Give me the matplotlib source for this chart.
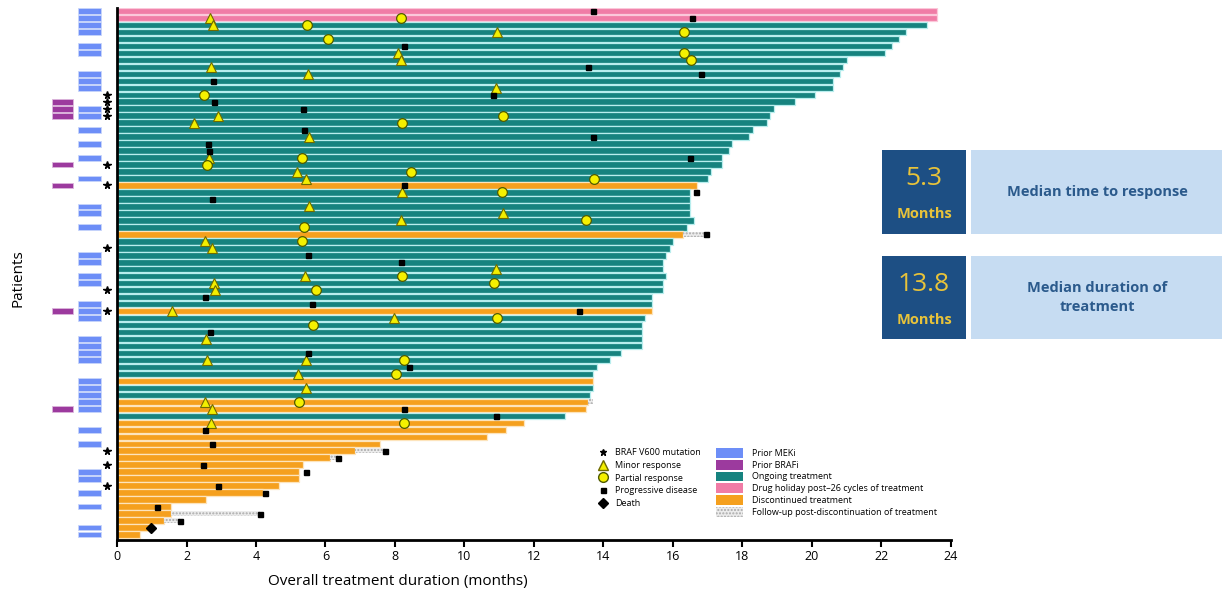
import numpy as np
import matplotlib.pyplot as plt
from matplotlib.patches import Rectangle, Patch
from matplotlib.lines import Line2D

plt.rcParams['font.family'] = ['Open Sans', 'DejaVu Sans']

# treatment duration per patient (months), top row first
duration = [23.6, 23.6, 23.3, 22.7, 22.5, 22.3, 22.1, 21.0, 20.9, 20.8,
            20.6, 20.6, 20.1, 19.5, 18.9, 18.8, 18.7, 18.3, 18.2, 17.7,
            17.6, 17.4, 17.4, 17.1, 17.0, 16.7, 16.5, 16.5, 16.5, 16.5,
            16.6, 16.4, 16.3, 16.0, 15.9, 15.8, 15.7, 15.7, 15.8, 15.7,
            15.7, 15.4, 15.4, 15.4, 15.2, 15.1, 15.1, 15.1, 15.1, 14.5,
            14.2, 13.8, 13.7, 13.7, 13.7, 13.6, 13.55, 13.5, 12.9, 11.7,
            11.2, 10.65, 7.56, 6.85, 6.13, 5.36, 5.25, 5.25, 4.65, 4.19,
            2.55, 1.55, 1.55, 1.35, 0.95, 0.66]

# H = drug holiday, O = ongoing, D = discontinued
status = (['H'] * 2 + ['O'] * 23 + ['D'] + ['O'] * 6 + ['D'] + ['O'] * 10 + ['D']
          + ['O'] * 9 + ['D'] + ['O'] * 2 + ['D'] * 2 + ['O'] + ['D'] * 17)

# follow-up after discontinuation (ends at)
followup_rows = [32, 56, 63, 64, 72, 73]
followup_end = [16.95, 13.7, 7.7, 6.37, 4.12, 1.81]

minor_rows = [1, 2, 3, 6, 7, 8, 9, 11, 15, 16, 18, 21, 23, 24, 26, 28, 29,
              30, 33, 34, 37, 38, 39, 40, 43, 44, 47, 50, 50, 52, 54, 56, 57, 59]
minor_months = [2.69, 2.75, 10.93, 8.09, 8.16, 2.7, 5.5, 10.9, 2.91, 2.22,
                5.52, 2.66, 5.19, 5.43, 8.21, 5.52, 11.1, 8.16, 2.53, 2.74,
                10.9, 5.42, 2.8, 2.83, 1.59, 7.98, 2.55, 2.6, 5.43, 5.2,
                5.44, 2.52, 2.72, 2.7]

partial_rows = [1, 2, 3, 4, 6, 7, 12, 15, 16, 21, 22, 23, 24, 26, 30, 31,
                33, 38, 39, 40, 44, 45, 50, 52, 56, 59]
partial_months = [8.16, 5.48, 16.33, 6.07, 16.33, 16.53, 2.51, 11.1, 8.21,
                  5.32, 2.58, 8.45, 13.72, 11.07, 13.5, 5.38, 5.31, 8.21,
                  10.85, 5.72, 10.94, 5.63, 8.25, 8.03, 5.25, 8.25]

pd_rows = [0, 1, 5, 8, 9, 10, 12, 13, 14, 17, 18, 19, 20, 21, 25, 26, 27,
           32, 35, 36, 41, 42, 43, 46, 49, 51, 57, 58, 60, 62, 63, 64, 65,
           66, 68, 69, 71, 72, 73]
pd_months = [13.7, 16.54, 8.25, 13.55, 16.8, 2.77, 10.82, 2.79, 5.36, 5.38,
             13.7, 2.63, 2.66, 16.48, 8.25, 16.66, 2.74, 16.95, 5.5, 8.16,
             2.53, 5.62, 13.3, 2.69, 5.5, 8.4, 8.25, 10.9, 2.53, 2.74, 7.7,
             6.37, 2.47, 5.43, 2.9, 4.26, 1.14, 4.12, 1.81]

death_rows = [74]
death_months = [0.98]

braf_rows = [12, 13, 14, 15, 22, 25, 34, 40, 43, 63, 65, 68]
meki_rows = [0, 1, 2, 3, 5, 6, 9, 10, 11, 14, 15, 17, 19, 21, 24, 28, 29, 31,
             35, 36, 38, 39, 42, 43, 44, 47, 48, 49, 50, 53, 54, 55, 56, 57,
             60, 62, 66, 67, 69, 71, 74, 75]
brafi_rows = [13, 14, 15, 22, 25, 43, 57]

fill = {'H': '#f07ca6', 'O': '#16837f', 'D': '#f5a01e'}
edge = {'H': '#fbc8da', 'O': '#b8eeee', 'D': '#fde4bc'}

fig = plt.figure(figsize=(12.23, 6.01), dpi=100)
ax = fig.add_axes([117 / 1223, 61 / 601, 834 / 1223, 532 / 601])

rows = np.arange(len(duration))
ax.barh(rows, duration, height=0.93,
        color=[fill[s] for s in status], edgecolor=[edge[s] for s in status],
        linewidth=0.9)

# dotted follow-up segments
fu_start = np.array([duration[r] for r in followup_rows])
ax.barh(followup_rows, np.array(followup_end) - fu_start, left=fu_start,
        height=0.7, color='#ececec', edgecolor='#a9a9a9', hatch='.....',
        linewidth=0)

mk = dict(linestyle='none', clip_on=False, zorder=5)
ax.plot(minor_months, minor_rows, marker='^', ms=7, mfc='#f2ee00', mec='#6e6a00', mew=0.8, **mk)
ax.plot(partial_months, partial_rows, marker='o', ms=7, mfc='#f5f000', mec='#4f5a00', mew=0.9, **mk)
ax.plot(pd_months, pd_rows, marker='s', ms=3.6, color='black', **mk)
ax.plot(death_months, death_rows, marker='D', ms=5, color='black', **mk)

# left annotation columns (outside the axes)
for r in meki_rows:
    ax.add_patch(Rectangle((-1.12, r - 0.42), 0.66, 0.84, facecolor='#6d8ef7',
                           edgecolor='#c8d5fb', linewidth=0.6, clip_on=False))
for r in brafi_rows:
    ax.add_patch(Rectangle((-1.87, r - 0.42), 0.6, 0.84, facecolor='#9c3a9e',
                           edgecolor='#dcb6dc', linewidth=0.6, clip_on=False))
ax.plot(np.full(len(braf_rows), -0.29), braf_rows, marker='*', ms=5.5, color='black', **mk)

ax.set_xlim(0, 24)
ax.set_ylim(75.79, -0.43)
ax.set_xticks(np.arange(0, 25, 2))
ax.set_yticks([])
ax.tick_params(axis='x', labelsize=9, length=5, width=1.5, pad=2)
for s in ['top', 'right']:
    ax.spines[s].set_visible(False)
ax.spines['left'].set_linewidth(2)
ax.spines['bottom'].set_linewidth(2)

fig.text(398 / 1223, 1 - 581 / 601, 'Overall treatment duration (months)',
         ha='center', va='center', fontsize=11)
fig.text(18 / 1223, 1 - 278 / 601, 'Patients', rotation=90,
         ha='center', va='center', fontsize=11)

# legends
h1 = [Line2D([], [], marker='*', color='black', ls='none', ms=5),
      Line2D([], [], marker='^', mfc='#f2ee00', mec='#6e6a00', ls='none', ms=7),
      Line2D([], [], marker='o', mfc='#f5f000', mec='#4f5a00', ls='none', ms=7),
      Line2D([], [], marker='s', color='black', ls='none', ms=3.6),
      Line2D([], [], marker='D', color='black', ls='none', ms=5)]
l1 = ['BRAF V600 mutation', 'Minor response', 'Partial response',
      'Progressive disease', 'Death']
leg1 = fig.legend(h1, l1, loc='upper left', bbox_to_anchor=(598 / 1223, 1 - 448 / 601),
                  frameon=False, fontsize=6.5, handlelength=1.0, handletextpad=0.9,
                  labelspacing=0.42, borderpad=0, borderaxespad=0)
h2 = [Patch(facecolor='#6d8ef7'), Patch(facecolor='#9c3a9e'), Patch(facecolor='#16837f'),
      Patch(facecolor='#f07ca6'), Patch(facecolor='#f5a01e'),
      Patch(facecolor='#ececec', edgecolor='#a9a9a9', hatch='.....', linewidth=0)]
l2 = ['Prior MEKi', 'Prior BRAFi', 'Ongoing treatment',
      'Drug holiday post\u201326 cycles of treatment', 'Discontinued treatment',
      'Follow-up post-discontinuation of treatment']
leg2 = fig.legend(h2, l2, loc='upper left', bbox_to_anchor=(716 / 1223, 1 - 448 / 601),
                  frameon=False, fontsize=6.5, handlelength=3.0, handleheight=1.3,
                  handletextpad=1.0, labelspacing=0.2, borderpad=0, borderaxespad=0)

# summary boxes on the right
boxes = [(150, 234, '5.3', 'Median time to response'),
         (256, 339, '13.8', 'Median duration of\ntreatment')]
for top, bot, val, label in boxes:
    y0 = 1 - bot / 601
    hh = (bot - top) / 601
    fig.add_artist(Rectangle((882 / 1223, y0), 84 / 1223, hh, transform=fig.transFigure,
                             facecolor='#1d4f84', edgecolor='none'))
    fig.add_artist(Rectangle((971 / 1223, y0), 251 / 1223, hh, transform=fig.transFigure,
                             facecolor='#c6dcf2', edgecolor='none'))
    cy = 1 - (top + bot) / 2 / 601
    fig.text(924 / 1223, cy + 0.022, val, ha='center', va='center',
             fontsize=19, color='#e8c33a')
    fig.text(924 / 1223, cy - 0.037, 'Months', ha='center', va='center',
             fontsize=10.5, fontweight='bold', color='#e8c33a')
    fig.text(1097 / 1223, cy, label, ha='center', va='center', fontsize=10.5,
             fontweight='bold', color='#2b5a8c', linespacing=1.5)

plt.savefig('out.png', dpi=100)
